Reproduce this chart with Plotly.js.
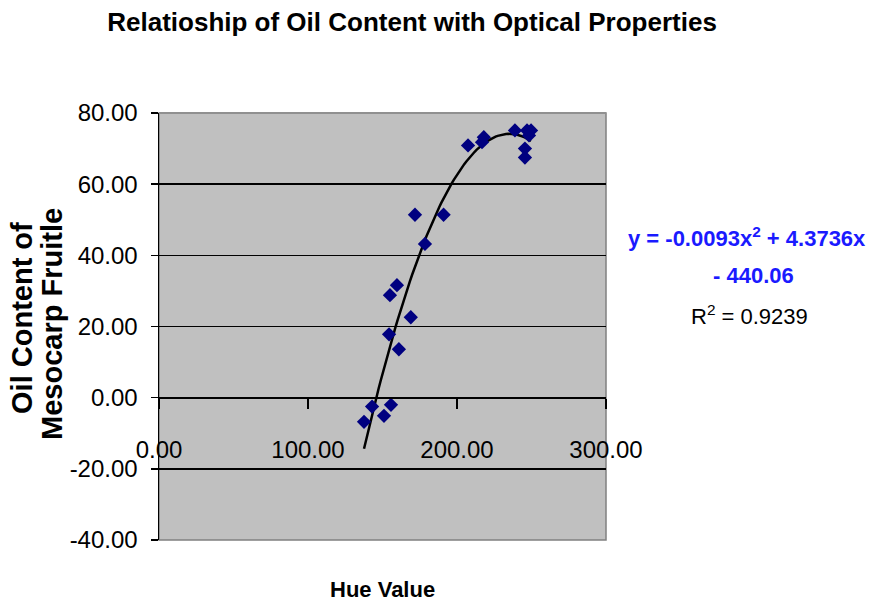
<!DOCTYPE html>
<html>
<head>
<meta charset="utf-8">
<script src="https://cdn.plot.ly/plotly-3.0.1.min.js"></script>
<style>html,body{margin:0;padding:0;background:#fff;}#chart{width:873px;height:603px;}</style>
</head>
<body>
<div id="chart"></div>
<script>
// Data
const hueValues = [137.6, 143.0, 151.0, 155.7, 154.4, 161.0, 155.0, 159.7, 169.0, 171.8, 178.5, 191.0, 207.4, 216.8, 218.0, 238.9, 245.6, 245.6, 247.0, 248.3, 249.7];
const oilContent = [-6.8, -2.5, -5.1, -2.0, 17.8, 13.6, 28.8, 31.6, 22.6, 51.4, 43.2, 51.4, 70.9, 71.8, 73.2, 75.1, 70.0, 67.5, 75.1, 73.7, 75.1];
// Trendline coefficients as printed on the chart
const trendA = -0.0093, trendB = 4.3736, trendC = -440.06;
const rSquared = 0.9239;
const xTicks = [0, 100, 200, 300];
const yTicks = [-40, -20, 0, 20, 40, 60, 80];

const SANS = "'Liberation Sans', Arial, sans-serif";

// trendline over the data range
const xMin = Math.min(...hueValues), xMax = Math.max(...hueValues);
const tx = [], ty = [];
const N = 80;
for (let i = 0; i <= N; i++) {
  const x = xMin + (xMax - xMin) * i / N;
  tx.push(x);
  ty.push(trendA * x * x + trendB * x + trendC);
}

const traces = [
  {x: tx, y: ty, type: 'scatter', mode: 'lines', line: {color: '#000', width: 2.5}, hoverinfo: 'skip', showlegend: false},
  {x: hueValues, y: oilContent, type: 'scatter', mode: 'markers',
   marker: {symbol: 'diamond', size: 11, color: '#000080', line: {width: 0}}, showlegend: false}
];

const eq1 = 'y = ' + trendA.toFixed(4) + 'x<sup>2</sup> + ' + trendB.toFixed(4) + 'x';
const eq2 = '- ' + Math.abs(trendC).toFixed(2);

const layout = {
  width: 873, height: 603,
  paper_bgcolor: '#fff', plot_bgcolor: '#c0c0c0',
  margin: {l: 159, r: 267, t: 113, b: 63, pad: 0},
  title: {text: '<b>Relatioship of Oil Content with Optical Properties</b>',
          font: {family: SANS, size: 26, color: '#000'},
          xref: 'container', x: 0.472, xanchor: 'center', yref: 'container', y: 0.9635, yanchor: 'middle'},
  xaxis: {range: [0, 300], tickvals: xTicks, ticktext: xTicks.map(v => v.toFixed(2)),
          anchor: 'free', position: 1/3, showgrid: false, zeroline: false,
          showline: true, linecolor: '#000', linewidth: 1.5,
          ticks: 'outside', ticklen: 10, tickwidth: 1.5, tickcolor: '#000',
          ticklabelstandoff: 20,
          tickfont: {family: SANS, size: 24, color: '#000'}, fixedrange: true},
  yaxis: {range: [-40, 80], tickvals: yTicks, ticktext: yTicks.map(v => v.toFixed(2)),
          showgrid: true, gridcolor: '#000', gridwidth: 1.5,
          zeroline: true, zerolinecolor: '#000', zerolinewidth: 1.5,
          showline: true, linecolor: '#000', linewidth: 1.5,
          ticks: 'outside', ticklen: 7, tickwidth: 1.5, tickcolor: '#000',
          ticklabelstandoff: 8,
          tickfont: {family: SANS, size: 24, color: '#000'}, fixedrange: true},
  shapes: [
    {type: 'rect', xref: 'paper', yref: 'paper', x0: 0, x1: 1, y0: 0, y1: 1,
     line: {color: '#808080', width: 1.5}, layer: 'below'},
    {type: 'line', xref: 'paper', yref: 'paper', x0: 0, x1: 1, y0: 1, y1: 1,
     line: {color: '#909090', width: 2}, layer: 'above'}
  ],
  annotations: [
    {text: '<b>Oil Content of</b>', textangle: -90, xref: 'paper', yref: 'paper',
     x: -0.3065, y: 0.52, xanchor: 'center', yanchor: 'middle', showarrow: false,
     font: {family: SANS, size: 29, color: '#000'}},
    {text: '<b>Mesocarp Fruitle</b>', textangle: -90, xref: 'paper', yref: 'paper',
     x: -0.2394, y: 0.506, xanchor: 'center', yanchor: 'middle', showarrow: false,
     font: {family: SANS, size: 29, color: '#000'}},
    {text: '<b>Hue Value</b>', xref: 'paper', yref: 'paper', x: 0.499, y: -0.117,
     xanchor: 'center', yanchor: 'middle', showarrow: false,
     font: {family: SANS, size: 22, color: '#000'}},
    {text: '<b>' + eq1 + '</b>', xref: 'paper', yref: 'paper', x: 1.045, y: 0.7096,
     xanchor: 'left', yanchor: 'middle', showarrow: false,
     font: {family: SANS, size: 22, color: '#1a1aff'}},
    {text: '<b>' + eq2 + '</b>', xref: 'paper', yref: 'paper', x: 1.329, y: 0.6206,
     xanchor: 'center', yanchor: 'middle', showarrow: false,
     font: {family: SANS, size: 22, color: '#1a1aff'}},
    {text: 'R<sup>2</sup> = ' + rSquared.toFixed(4), xref: 'paper', yref: 'paper', x: 1.322, y: 0.527,
     xanchor: 'center', yanchor: 'middle', showarrow: false,
     font: {family: SANS, size: 22, color: '#000'}}
  ]
};

Plotly.newPlot('chart', traces, layout, {displayModeBar: false, staticPlot: true});
</script>
</body>
</html>
